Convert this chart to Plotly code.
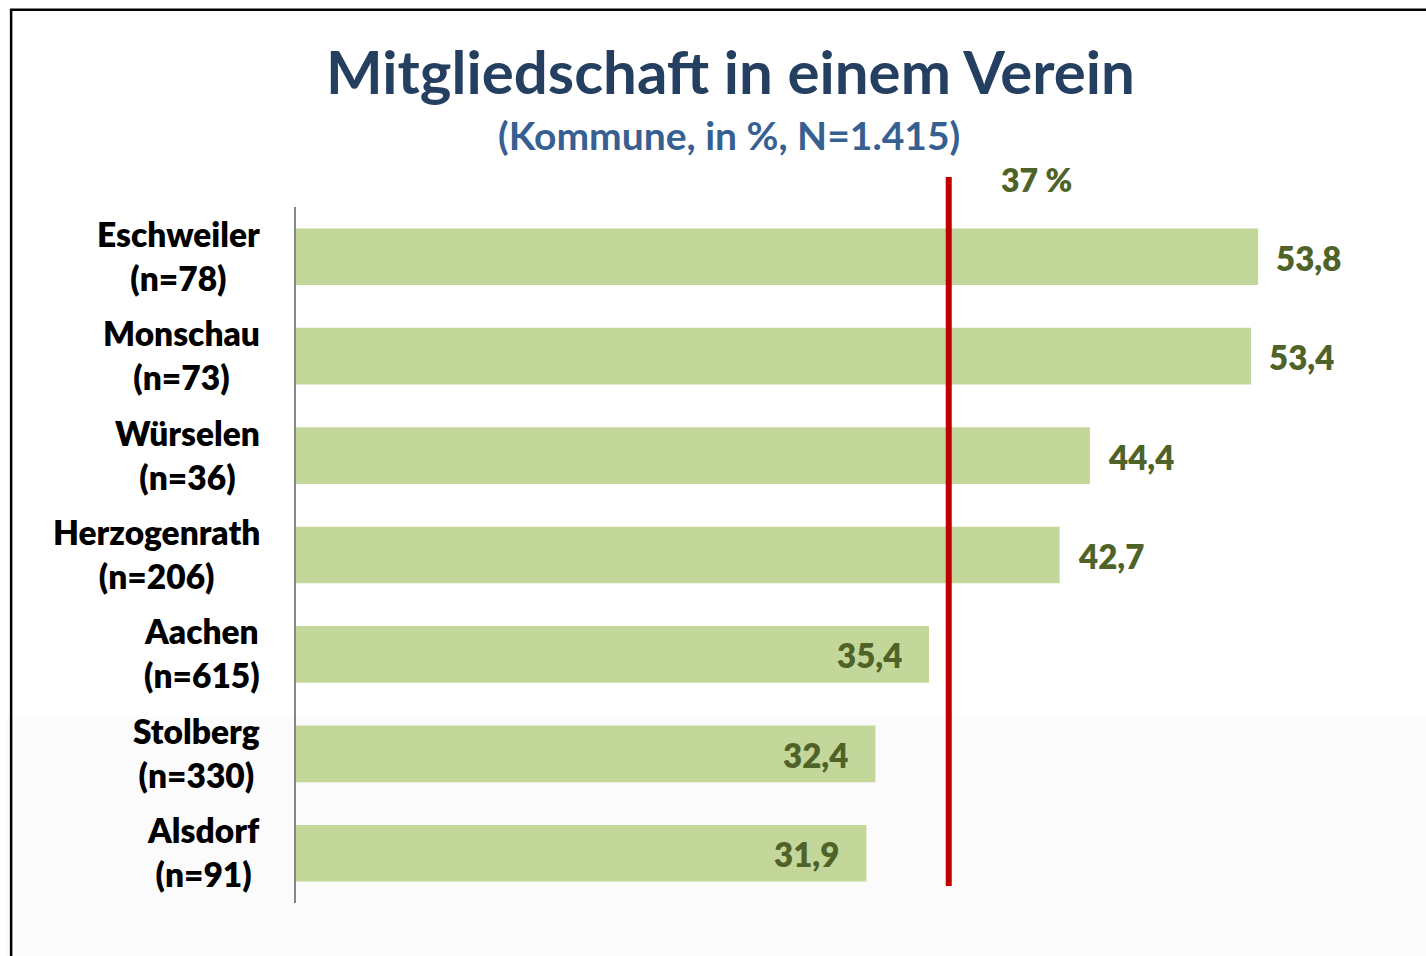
import plotly.graph_objects as go

# --- data ---
kommunen = ["Eschweiler", "Monschau", "Würselen", "Herzogenrath", "Aachen", "Stolberg", "Alsdorf"]
stichprobe = ["n=78", "n=73", "n=36", "n=206", "n=615", "n=330", "n=91"]
anteile = [53.8, 53.4, 44.4, 42.7, 35.4, 32.4, 31.9]
gesamt_wert = 36.5
gesamt_label = "37 %"
label_innen = [False, False, False, False, True, True, True]

title_text = "Mitgliedschaft in einem Verein"
subtitle_text = "(Kommune, in %, N=1.415)"

FONT = "Lato"
GREEN_TXT = "#4f6228"
W = 800

fig = go.Figure()
fig.add_trace(go.Bar(
    y=kommunen, x=anteile, orientation="h",
    marker=dict(color="#c4d79b", line=dict(width=0)),
    hoverinfo="skip",
))

annotations = []
# category labels (two lines, centered block, right-aligned to axis)
for k, n in zip(kommunen, stichprobe):
    annotations.append(dict(
        x=0, xref="paper", y=k, yref="y", xanchor="right", yanchor="middle",
        xshift=-34, yshift=1, text=f"{k}<br>({n})", showarrow=False, align="center",
        font=dict(family=FONT, size=33.5, color="black", weight=W),
    ))
# value labels
for k, v, inn in zip(kommunen, anteile, label_innen):
    txt = f"{v:.1f}".replace(".", ",")
    annotations.append(dict(
        x=v, xref="x", y=k, yref="y",
        xanchor="right" if inn else "left", yanchor="middle",
        xshift=-25 if inn else 16, yshift=-1, text=txt, showarrow=False,
        font=dict(family=FONT, size=33, color=GREEN_TXT, weight=W),
    ))
# reference label
annotations.append(dict(
    x=gesamt_wert, xref="x", y=1.04, yref="paper", xanchor="left", yanchor="middle",
    xshift=50, text=gesamt_label, showarrow=False,
    font=dict(family=FONT, size=32, color=GREEN_TXT, weight=W),
))
# title + subtitle
annotations.append(dict(
    x=0.405, xref="paper", y=1.196, yref="paper", xanchor="center", yanchor="middle",
    text=title_text, showarrow=False,
    font=dict(family=FONT, size=60, color="#243f60", weight="bold"),
))
annotations.append(dict(
    x=0.404, xref="paper", y=1.1035, yref="paper", xanchor="center", yanchor="middle",
    text=subtitle_text, showarrow=False,
    font=dict(family=FONT, size=39, color="#376092", weight="bold"),
))

shapes = [
    # light grey lower background
    dict(type="rect", xref="paper", yref="paper", x0=-0.27, x1=1.1, y0=-0.2, y1=0.267,
         fillcolor="#fbfbfb", line=dict(width=0), layer="below"),
    # frame
    dict(type="rect", xref="paper", yref="paper", x0=-0.2655, x1=1.2, y0=-0.3, y1=1.2835,
         line=dict(color="black", width=2.5), fillcolor="rgba(0,0,0,0)", layer="above"),
    # reference line
    dict(type="line", xref="x", yref="paper", x0=gesamt_wert, x1=gesamt_wert,
         y0=0.0245, y1=1.043, line=dict(color="#c00000", width=6), layer="above"),
]

fig.update_layout(
    width=1426, height=956,
    margin=dict(l=296, r=57, t=207, b=53),
    paper_bgcolor="white", plot_bgcolor="rgba(0,0,0,0)",
    showlegend=False, bargap=0.43,
    xaxis=dict(range=[0, 60], visible=False, fixedrange=True),
    yaxis=dict(autorange="reversed", showticklabels=False, ticks="",
               showline=True, linecolor="#868686", linewidth=2, showgrid=False,
               zeroline=False, fixedrange=True),
    annotations=annotations, shapes=shapes,
)

fig.write_html("out.html", config={"displayModeBar": False},
               post_script="document.body.style.margin='0';document.body.style.overflow='hidden';")
